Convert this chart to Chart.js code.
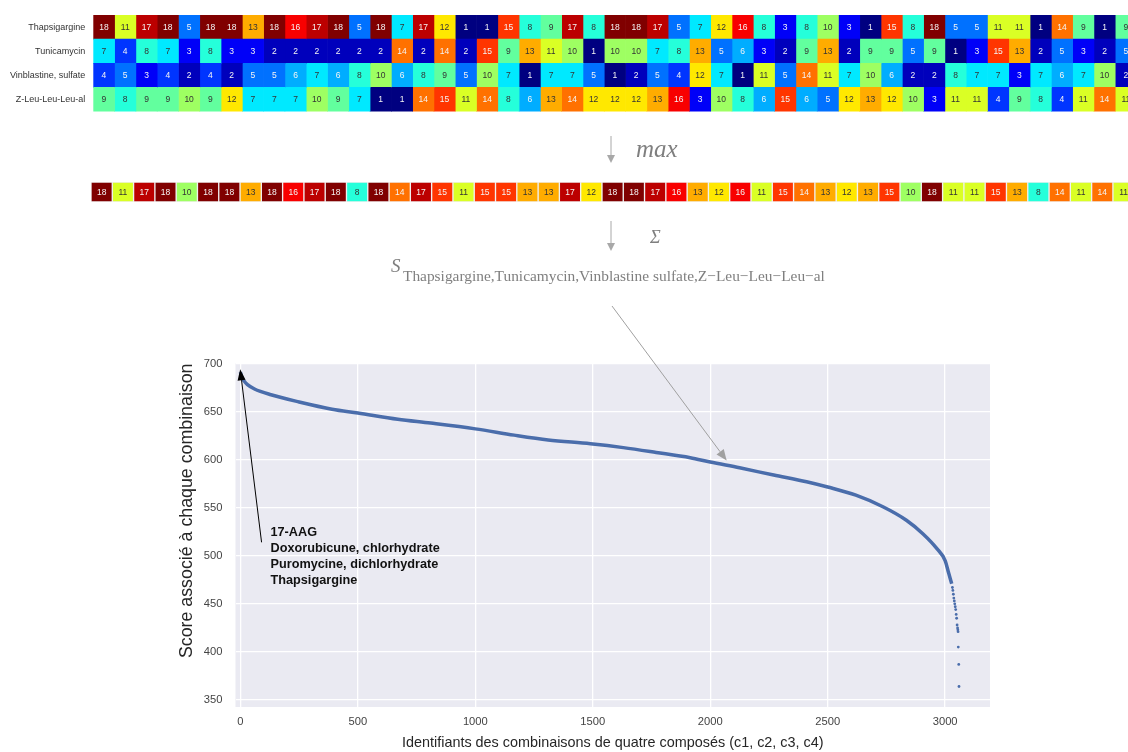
<!DOCTYPE html>
<html>
<head>
<meta charset="utf-8">
<script src="https://cdn.jsdelivr.net/npm/chart.js@4/dist/chart.umd.min.js"></script>
<style>
  html, body { margin: 0; padding: 0; background: #fff; overflow: hidden; width: 1128px; height: 752px; position: relative; }
  canvas, svg { position: absolute; }
  #heatmap { left: 0; top: 0; }
  #maxRow { left: 0; top: 176px; }
  #overlay { left: 0; top: 0; }
  #scores { left: 160px; top: 290px; }
</style>
</head>
<body>
<canvas id="heatmap" width="1140" height="125"></canvas>
<canvas id="maxRow" width="1140" height="30"></canvas>
<svg id="overlay" width="1128" height="300">
  <g stroke="#a8a8a8" fill="#a8a8a8">
    <line x1="611" y1="136" x2="611" y2="156" stroke-width="1"/>
    <polygon points="607,155 615,155 611,163" stroke="none"/>
    <line x1="611" y1="221" x2="611" y2="244" stroke-width="1"/>
    <polygon points="607,243 615,243 611,251" stroke="none"/>
  </g>
  <g font-family="'Liberation Serif', 'Times New Roman', serif" fill="#7f7f7f">
    <text x="636" y="157" font-size="25" font-style="italic">max</text>
    <text x="650" y="243" font-size="18" font-style="italic">Σ</text>
    <text x="391" y="272" font-size="19" font-style="italic">S</text>
    <text x="403" y="281" font-size="15.4">Thapsigargine,Tunicamycin,Vinblastine sulfate,Z−Leu−Leu−Leu−al</text>
  </g>
</svg>
<canvas id="scores" width="860" height="462"></canvas>
<script>
// Composés (lignes de la matrice)
const rowNames = ["Thapsigargine", "Tunicamycin", "Vinblastine, sulfate", "Z-Leu-Leu-Leu-al"];

// Rangs par colonne
const thapsigargine = [18, 11, 17, 18, 5, 18, 18, 13, 18, 16, 17, 18, 5, 18, 7, 17, 12, 1, 1, 15, 8, 9, 17, 8, 18, 18, 17, 5, 7, 12, 16, 8, 3, 8, 10, 3, 1, 15, 8, 18, 5, 5, 11, 11, 1, 14, 9, 1, 9];
const tunicamycin = [7, 4, 8, 7, 3, 8, 3, 3, 2, 2, 2, 2, 2, 2, 14, 2, 14, 2, 15, 9, 13, 11, 10, 1, 10, 10, 7, 8, 13, 5, 6, 3, 2, 9, 13, 2, 9, 9, 5, 9, 1, 3, 15, 13, 2, 5, 3, 2, 5];
const vinblastine = [4, 5, 3, 4, 2, 4, 2, 5, 5, 6, 7, 6, 8, 10, 6, 8, 9, 5, 10, 7, 1, 7, 7, 5, 1, 2, 5, 4, 12, 7, 1, 11, 5, 14, 11, 7, 10, 6, 2, 2, 8, 7, 7, 3, 7, 6, 7, 10, 2];
const zLeu = [9, 8, 9, 9, 10, 9, 12, 7, 7, 7, 10, 9, 7, 1, 1, 14, 15, 11, 14, 8, 6, 13, 14, 12, 12, 12, 13, 16, 3, 10, 8, 6, 15, 6, 5, 12, 13, 12, 10, 3, 11, 11, 4, 9, 8, 4, 11, 14, 11];

// Ligne "max"
const maxRow = [18, 11, 17, 18, 10, 18, 18, 13, 18, 16, 17, 18, 8, 18, 14, 17, 15, 11, 15, 15, 13, 13, 17, 12, 18, 18, 17, 16, 13, 12, 16, 11, 15, 14, 13, 12, 13, 15, 10, 18, 11, 11, 15, 13, 8, 14, 11, 14, 11];

// Courbe des scores triés
const curveIds = [0, 5, 15, 30, 60, 130, 250, 390, 500, 670, 810, 1000, 1165, 1310, 1490, 1630, 1770, 1915, 2000, 2125, 2270, 2410, 2500, 2620, 2735, 2835, 2905, 2965, 3000, 3015, 3028];
const curveScores = [691, 686, 682, 678, 673.5, 667.5, 660, 652.5, 648.5, 642, 638, 632, 625.5, 620.5, 616.5, 612.5, 607.5, 602, 597.5, 591.5, 584, 577, 571.5, 563, 551, 537, 523, 507.5, 495, 482, 471];
const tailIds = [3031, 3033, 3035, 3037, 3039, 3041, 3043, 3045, 3047, 3049, 3051, 3053, 3054, 3055, 3056, 3058, 3059];
const tailScores = [467, 464, 460, 456, 453, 450, 447, 444, 439, 435, 428, 425, 423, 421, 405, 387, 364];

// Graduations
const xTicks = [0, 500, 1000, 1500, 2000, 2500, 3000];
const yTicks = [350, 400, 450, 500, 550, 600, 650, 700];

// Libellés
const xTitle = "Identifiants des combinaisons de quatre composés (c1, c2, c3, c4)";
const yTitle = "Score associé à chaque combinaison";
const topLabels = ["17-AAG", "Doxorubicune, chlorhydrate", "Puromycine, dichlorhydrate", "Thapsigargine"];

Chart.defaults.font.family = "'Liberation Sans', Arial, sans-serif";

// Palette "jet" (1 -> 18)
function jet(v) {
  const t = (v - 1) / 17;
  const c = k => Math.round(255 * Math.max(0, Math.min(1, 1.5 - Math.abs(4 * t - k))));
  return `rgb(${c(3)},${c(2)},${c(1)})`;
}
function textColor(v) {
  return v <= 6 || v >= 14 ? "#f4f4f4" : "#333";
}

// Nombres dans les cases
const cellLabels = {
  id: "cellLabels",
  afterDatasetsDraw(chart) {
    const ctx = chart.ctx;
    ctx.save();
    ctx.font = "8.5px 'Liberation Sans', Arial, sans-serif";
    ctx.textAlign = "center";
    ctx.textBaseline = "middle";
    chart.data.datasets.forEach((ds, i) => {
      chart.getDatasetMeta(i).data.forEach((el, j) => {
        const p = el.getCenterPoint();
        ctx.fillStyle = textColor(ds.values[j]);
        ctx.fillText(ds.values[j], p.x, p.y + 0.5);
      });
    });
    ctx.restore();
  },
};

// Matrice en barres horizontales empilées : un jeu de données par colonne
function createGrid(canvasId, labels, rows, gap, padding, axisWidth, showLabels) {
  const datasets = [];
  for (let i = 0; i < rows[0].length; i++) {
    datasets.push({
      data: rows.map(() => 1),
      values: rows.map(r => r[i]),
      backgroundColor: rows.map(r => jet(r[i])),
      borderColor: "#f0f0f0",
      borderWidth: gap ? 1 : 0,
      borderSkipped: false,
      barPercentage: 1,
      categoryPercentage: 1,
    });
  }
  new Chart(document.getElementById(canvasId), {
    type: "bar",
    data: { labels: labels, datasets: datasets },
    options: {
      indexAxis: "y",
      animation: false,
      responsive: false,
      layout: { padding: padding },
      plugins: { legend: { display: false }, tooltip: { enabled: false } },
      scales: {
        x: { stacked: true, min: 0, max: rows[0].length, display: false },
        y: {
          stacked: true,
          display: showLabels,
          grid: { display: false, drawTicks: false },
          border: { display: false },
          ticks: { font: { size: 9 }, color: "#333", padding: 8 },
          afterFit: s => { s.width = axisWidth; },
        },
      },
    },
    plugins: [cellLabels],
  });
}

createGrid("heatmap", rowNames, [thapsigargine, tunicamycin, vinblastine, zLeu], false,
  { top: 15, bottom: 7, left: 0, right: 3.5 }, 93.3, true);
createGrid("maxRow", ["max"], [maxRow], true,
  { top: 6, bottom: 4, left: 0, right: 5.8 }, 91, false);

// Fond gris de la zone de tracé
const plotBackground = {
  id: "plotBackground",
  beforeDraw(chart) {
    const { ctx, chartArea: a } = chart;
    ctx.save();
    ctx.fillStyle = "#eaeaf2";
    ctx.fillRect(a.left, a.top, a.width, a.height);
    ctx.restore();
  },
};

function drawArrow(ctx, x1, y1, x2, y2, color, headLen, headWidth) {
  const ang = Math.atan2(y2 - y1, x2 - x1);
  const bx = x2 - headLen * Math.cos(ang);
  const by = y2 - headLen * Math.sin(ang);
  ctx.strokeStyle = color;
  ctx.fillStyle = color;
  ctx.lineWidth = 1;
  ctx.beginPath();
  ctx.moveTo(x1, y1);
  ctx.lineTo(bx, by);
  ctx.stroke();
  ctx.beginPath();
  ctx.moveTo(x2, y2);
  ctx.lineTo(bx + (headWidth / 2) * Math.sin(ang), by - (headWidth / 2) * Math.cos(ang));
  ctx.lineTo(bx - (headWidth / 2) * Math.sin(ang), by + (headWidth / 2) * Math.cos(ang));
  ctx.closePath();
  ctx.fill();
}

// Flèches et texte d'annotation
const annotations = {
  id: "annotations",
  afterDraw(chart) {
    const { ctx, scales: { x, y } } = chart;
    ctx.save();
    // flèche grise depuis la formule S vers la courbe
    drawArrow(ctx, 452, 16, x.getPixelForValue(2070), y.getPixelForValue(599), "#a0a0a0", 11, 9);
    // flèche noire vers la meilleure combinaison
    drawArrow(ctx, x.getPixelForValue(90), y.getPixelForValue(514), x.getPixelForValue(-1), y.getPixelForValue(694), "#000", 11, 8);
    ctx.fillStyle = "#111";
    ctx.font = "bold 12.7px 'Liberation Sans', Arial, sans-serif";
    ctx.textAlign = "left";
    ctx.textBaseline = "middle";
    const tx = x.getPixelForValue(128);
    const ty = y.getPixelForValue(524.7);
    topLabels.forEach((t, i) => ctx.fillText(t, tx, ty + i * 16.1));
    ctx.restore();
  },
};

const gridStyle = { color: "#fff", lineWidth: 1.3, drawTicks: false };
const tickFont = { size: 11.2 };

new Chart(document.getElementById("scores"), {
  type: "scatter",
  data: {
    datasets: [
      {
        type: "line",
        data: curveIds.map((id, i) => ({ x: id, y: curveScores[i] })),
        borderColor: "#4a6dab",
        borderWidth: 3.5,
        pointRadius: 0,
        cubicInterpolationMode: "monotone",
        fill: false,
      },
      {
        data: tailIds.map((id, i) => ({ x: id, y: tailScores[i] })),
        backgroundColor: "#4a6dab",
        borderWidth: 0,
        pointRadius: 1.4,
      },
    ],
  },
  options: {
    animation: false,
    responsive: false,
    layout: { padding: { top: 73.5, right: 30, bottom: 0, left: 0 } },
    plugins: { legend: { display: false }, tooltip: { enabled: false } },
    scales: {
      x: {
        type: "linear",
        min: -21,
        max: 3191,
        grid: gridStyle,
        border: { display: false },
        afterBuildTicks: s => { s.ticks = xTicks.map(v => ({ value: v })); },
        ticks: { font: tickFont, color: "#444", padding: 8, callback: v => String(v) },
        title: { display: true, text: xTitle, font: { size: 14.4 }, color: "#262626", padding: { top: 0, bottom: 0 } },
        afterFit: s => { s.height = 45; },
      },
      y: {
        min: 342.7,
        max: 700,
        grid: gridStyle,
        border: { display: false },
        afterBuildTicks: s => { s.ticks = yTicks.map(v => ({ value: v })); },
        ticks: { font: tickFont, color: "#444", padding: 13, callback: v => String(v) },
        title: { display: true, text: yTitle, align: "end", font: { size: 17.8 }, color: "#262626", padding: { top: 16.3, bottom: 0 } },
        afterFit: s => { s.width = 75.5; },
      },
    },
  },
  plugins: [plotBackground, annotations],
});
</script>
</body>
</html>
